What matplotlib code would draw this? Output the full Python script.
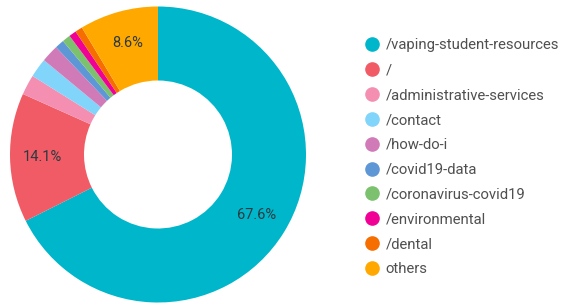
import matplotlib
matplotlib.use("Agg")
import matplotlib.pyplot as plt
from matplotlib.lines import Line2D

labels = ["/vaping-student-resources", "/", "/administrative-services", "/contact",
          "/how-do-i", "/covid19-data", "/coronavirus-covid19", "/environmental",
          "/dental", "others"]
values = [67.6, 14.1, 2.2, 2.1, 1.9, 1.0, 0.9, 0.8, 0.8, 8.6]
colors = ["#00b6cb", "#f05b66", "#f48fb1", "#81d4fa", "#d17ab8", "#5e97d6",
          "#7cc16e", "#f10096", "#f66d00", "#ffa800"]

plt.rcParams['font.family'] = ['Roboto', 'DejaVu Sans']

fig = plt.figure(figsize=(5.63, 3.07), dpi=100)
ax = fig.add_axes([10/563, 4.5/307, 296/563, 296/307])

def fmt(p):
    return f"{p:.1f}%" if p > 5 else ""

wedges, texts, autotexts = ax.pie(values, colors=colors, startangle=90, counterclock=False,
                                  radius=1.0, wedgeprops=dict(width=0.5, linewidth=0),
                                  autopct=fmt, pctdistance=0.78,
                                  textprops=dict(fontsize=10.5, color="#2a3a40"))
ax.set_xlim(-1, 1)
ax.set_ylim(-1, 1)
ax.set_aspect('equal')
ax.axis('off')

handles = [Line2D([0], [0], marker='o', linestyle='none', markersize=9.5,
                  markerfacecolor=c, markeredgecolor=c) for c in colors]
leg = fig.legend(handles, labels, loc='upper left', bbox_to_anchor=(365.5/563, 1 - 38.5/307),
                 frameon=False, fontsize=10.7, labelspacing=0.73, handletextpad=0.45,
                 handlelength=0.9, borderpad=0, borderaxespad=0)
for t in leg.get_texts():
    t.set_color("#505050")

fig.savefig("out.png", dpi=100)
